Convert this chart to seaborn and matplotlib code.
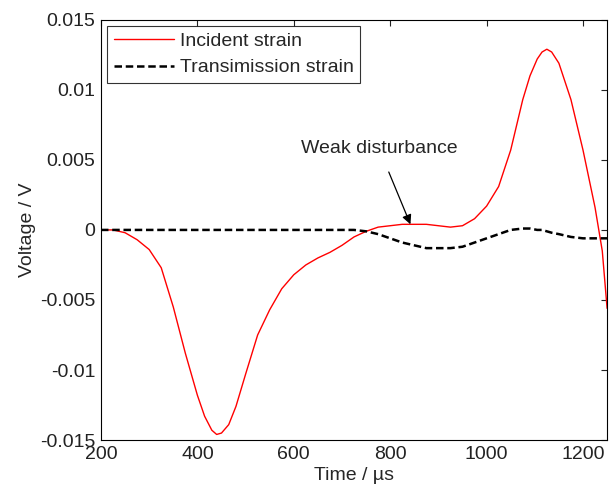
import pandas as pd
import matplotlib
matplotlib.use("Agg")
import matplotlib.pyplot as plt
import seaborn as sns
from matplotlib.ticker import FuncFormatter

# Time axis (microseconds) and the two strain gauge signals (V)
time_us = [200, 225, 250, 275, 300, 325, 350, 375, 400, 415, 430, 440, 450, 465,
           480, 500, 525, 550, 575, 600, 625, 650, 675, 700, 725, 750, 775, 800,
           825, 850, 875, 900, 925, 950, 975, 1000, 1025, 1050, 1075, 1090, 1105,
           1115, 1125, 1135, 1150, 1175, 1200, 1225, 1240, 1250]
incident = [0.0, 0.0, -0.0002, -0.0007, -0.0014, -0.0027, -0.0055, -0.0088, -0.0118,
            -0.0133, -0.0143, -0.0146, -0.0145, -0.0139, -0.0126, -0.0103, -0.0075,
            -0.0057, -0.0042, -0.0032, -0.0025, -0.0020, -0.0016, -0.0011, -0.0005,
            -0.0001, 0.0002, 0.0003, 0.0004, 0.0004, 0.0004, 0.0003, 0.0002, 0.0003,
            0.0008, 0.0017, 0.0031, 0.0057, 0.0093, 0.0110, 0.0122, 0.0127, 0.0129,
            0.0127, 0.0119, 0.0093, 0.0057, 0.0016, -0.0015, -0.0056]
transmission = [0.0, 0.0, 0.0, 0.0, 0.0, 0.0, 0.0, 0.0, 0.0, 0.0, 0.0, 0.0, 0.0, 0.0,
                0.0, 0.0, 0.0, 0.0, 0.0, 0.0, 0.0, 0.0, 0.0, 0.0, 0.0, -0.0001, -0.0003,
                -0.0006, -0.0009, -0.0011, -0.0013, -0.0013, -0.0013, -0.0012, -0.0009,
                -0.0006, -0.0003, 0.0, 0.0001, 0.0001, 0.0, 0.0, -0.0001, -0.0002,
                -0.0003, -0.0005, -0.0006, -0.0006, -0.0006, -0.0006]

df = pd.DataFrame({"Time": time_us, "Incident": incident, "Transmission": transmission})

sns.set_style("white")
plt.rcParams["font.family"] = ["Liberation Sans", "DejaVu Sans"]

fig, ax = plt.subplots(figsize=(6.12, 4.95), dpi=100)
fig.subplots_adjust(left=0.165, right=0.992, top=0.96, bottom=0.111)

sns.lineplot(data=df, x="Time", y="Incident", ax=ax, color="red", linewidth=1.0,
             label="Incident strain")
sns.lineplot(data=df, x="Time", y="Transmission", ax=ax, color="black", linewidth=1.8,
             linestyle=(0, (3, 1.5)), label="Transimission strain")

ax.set_xlim(200, 1250)
ax.set_ylim(-0.015, 0.015)
ax.set_xticks([200, 400, 600, 800, 1000, 1200])
ax.set_yticks([-0.015, -0.01, -0.005, 0, 0.005, 0.01, 0.015])
ax.yaxis.set_major_formatter(FuncFormatter(lambda v, p: f"{v:g}"))
ax.tick_params(direction="in", length=4, width=0.8, top=True, right=True,
               labelsize=14, colors="#222222", pad=4)
for s in ax.spines.values():
    s.set_color("black")
    s.set_linewidth(0.8)

ax.set_xlabel("Time / \u00b5s", fontsize=14, labelpad=3)
ax.set_ylabel("Voltage / V", fontsize=14, labelpad=3)

ax.annotate("Weak disturbance", xy=(842, 0.0004), xytext=(777, 0.0058),
            ha="center", va="center", fontsize=14,
            arrowprops=dict(arrowstyle="-|>", color="black", lw=0.9,
                            shrinkA=9, shrinkB=0, mutation_scale=14))

leg = ax.legend(loc="upper left", fontsize=14, frameon=True, fancybox=False,
                edgecolor="black", borderaxespad=0.3, handlelength=3.1,
                handletextpad=0.3, labelspacing=0.45, borderpad=0.35)
leg.get_frame().set_linewidth(0.8)

fig.savefig("out.png", dpi=100)
